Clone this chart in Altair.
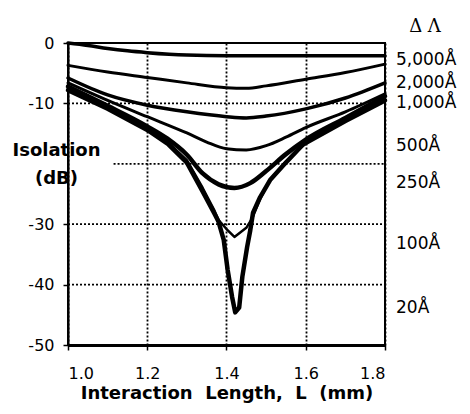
import altair as alt
import pandas as pd

# ---- data ----
series_names = ["5,000Å", "2,000Å", "1,000Å", "500Å", "250Å", "100Å", "20Å"]

s5000_L = [1.0, 1.05, 1.1, 1.15, 1.2, 1.3, 1.4, 1.5, 1.6, 1.7, 1.8]
s5000_dB = [0.0, -0.4, -0.9, -1.3, -1.6, -2.0, -2.1, -2.1, -2.1, -2.1, -2.1]

s2000_L = [1.0, 1.1, 1.2, 1.3, 1.4, 1.45, 1.5, 1.6, 1.7, 1.8]
s2000_dB = [-3.7, -4.8, -5.7, -6.6, -7.4, -7.5, -7.1, -6.0, -4.9, -3.5]

s1000_L = [1.0, 1.1, 1.2, 1.3, 1.4, 1.45, 1.5, 1.6, 1.7, 1.8]
s1000_dB = [-5.8, -8.6, -10.3, -11.4, -12.2, -12.4, -12.1, -10.9, -9.1, -6.6]

s500_L = [1.0, 1.1, 1.2, 1.3, 1.35, 1.4, 1.45, 1.5, 1.55, 1.6, 1.7, 1.8]
s500_dB = [-6.6, -9.5, -12.2, -14.9, -16.4, -17.5, -17.7, -17.0, -15.6, -14.0, -11.4, -8.4]

s250_L = [1.0, 1.1, 1.2, 1.25, 1.3, 1.34, 1.38, 1.42, 1.46, 1.5, 1.55, 1.6, 1.7, 1.8]
s250_dB = [-7.2, -10.4, -13.8, -15.8, -18.5, -21.6, -23.4, -24.0, -23.2, -21.2, -18.4, -16.0, -12.4, -8.8]

s100_L = [1.0, 1.1, 1.2, 1.25, 1.3, 1.34, 1.37, 1.38, 1.4, 1.42, 1.45, 1.465,
          1.485, 1.51, 1.55, 1.6, 1.7, 1.8]
s100_dB = [-7.4, -10.6, -14.1, -16.3, -19.4, -24.0, -27.8, -29.3, -30.8, -32.1, -30.6, -29.0,
           -25.8, -22.6, -19.6, -16.6, -12.6, -9.0]

s20_L = [1.0, 1.1, 1.2, 1.25, 1.3, 1.34, 1.37, 1.38, 1.393, 1.403, 1.414, 1.422, 1.432,
         1.44, 1.452, 1.46, 1.467, 1.485, 1.51, 1.543, 1.593, 1.7, 1.8]
s20_dB = [-7.8, -10.9, -14.4, -16.6, -19.8, -24.6, -28.3, -29.6, -32.6, -37.6, -42.0, -44.6, -43.8,
          -38.7, -33.8, -31.0, -28.1, -25.5, -22.7, -20.3, -16.8, -12.9, -9.5]

label_dB = [-2.8, -6.7, -10.0, -17.0, -23.2, -33.3, -43.9]   # right-hand curve labels
header_text = "Δ Λ"
header_dB = 2.6

x_ticks = [1.0, 1.1, 1.2, 1.3, 1.4, 1.5, 1.6, 1.7, 1.8]
y_labels = [0, -10, -30, -40, -50]
grid_y = [-10, -20, -30, -40]
grid_x_start = [1.0, 1.115, 1.0, 1.0]

# ---- styles ----
widths = [3.5, 3, 3.5, 3, 4.5, 2.5, 4.5]
interp = ["monotone", "monotone", "monotone", "monotone", "monotone", "linear", "linear"]

all_L = [s5000_L, s2000_L, s1000_L, s500_L, s250_L, s100_L, s20_L]
all_dB = [s5000_dB, s2000_dB, s1000_dB, s500_dB, s250_dB, s100_dB, s20_dB]

FONT = "DejaVu Sans"
NB = "\u00a0"

xscale = alt.Scale(domain=[1.0, 1.8], nice=False, zero=False)
yscale = alt.Scale(domain=[-50, 0], nice=False, zero=False)

x_axis = alt.Axis(
    values=x_ticks,
    labelExpr="round(datum.value*10) % 2 == 0 ? format(datum.value, '.1f') : ''",
    title=f"Interaction{NB}{NB}Length,{NB}{NB}L{NB}{NB}(mm)",
    titleFont=FONT, titleFontSize=18, titleFontWeight="bold", titleColor="black",
    titlePadding=3,
    labelFont=FONT, labelFontSize=16, labelColor="black", labelPadding=15,
    tickColor="black", tickSize=5, tickWidth=1.5,
    domainColor="black", domainWidth=3,
    grid=True, gridColor="black", gridDash=[2, 2], gridWidth=1.8,
)
y_axis = alt.Axis(
    values=y_labels,
    labelExpr="datum.value + ''",
    title=["Isolation", "(dB)"],
    titleAngle=0, titleAlign="center", titleBaseline="top",
    titleX=-12, titleY=98, titleLineHeight=28,
    titleFont=FONT, titleFontSize=18, titleFontWeight="bold", titleColor="black",
    labelFont=FONT, labelFontSize=16, labelColor="black", labelPadding=9,
    tickColor="black", tickSize=5, tickWidth=1.5,
    domainColor="black", domainWidth=2,
    grid=False,
)

layers = []

grid_df = pd.DataFrame({"y": grid_y, "x0": grid_x_start, "x1": [1.8] * len(grid_y)})
layers.append(
    alt.Chart(grid_df).mark_rule(color="black", strokeDash=[2, 2], strokeWidth=1.8).encode(
        x=alt.X("x0:Q", scale=xscale, axis=x_axis),
        x2="x1:Q",
        y=alt.Y("y:Q", scale=yscale, axis=y_axis),
    )
)

for name, Ls, dBs, w, ip in zip(series_names, all_L, all_dB, widths, interp):
    df = pd.DataFrame({"L": Ls, "dB": dBs, "series": name})
    layers.append(
        alt.Chart(df).mark_line(color="black", strokeWidth=w, interpolate=ip,
                                strokeJoin="round", strokeCap="round").encode(
            x=alt.X("L:Q", scale=xscale),
            y=alt.Y("dB:Q", scale=yscale),
        )
    )

lab_df = pd.DataFrame({"label": series_names, "dB": label_dB})
layers.append(
    alt.Chart(lab_df).mark_text(align="left", baseline="middle", font=FONT,
                                fontSize=17, color="black").encode(
        x=alt.value(328),
        y=alt.Y("dB:Q", scale=yscale),
        text="label:N",
    )
)
head_df = pd.DataFrame({"label": [header_text], "dB": [header_dB]})
layers.append(
    alt.Chart(head_df).mark_text(align="center", baseline="middle", font="DejaVu Serif",
                                 fontSize=18, color="black").encode(
        x=alt.value(357),
        y=alt.Y("dB:Q", scale=yscale),
        text="label:N",
    )
)

chart = alt.layer(*layers).properties(
    width=317, height=302,
    autosize=alt.AutoSizeParams(type="none"),
    padding={"left": 60, "top": 35, "right": 77, "bottom": 61},
    background="white",
).configure_view(stroke="black", strokeWidth=2)

chart.save("out.html", embed_options={"renderer": "svg", "actions": False})
